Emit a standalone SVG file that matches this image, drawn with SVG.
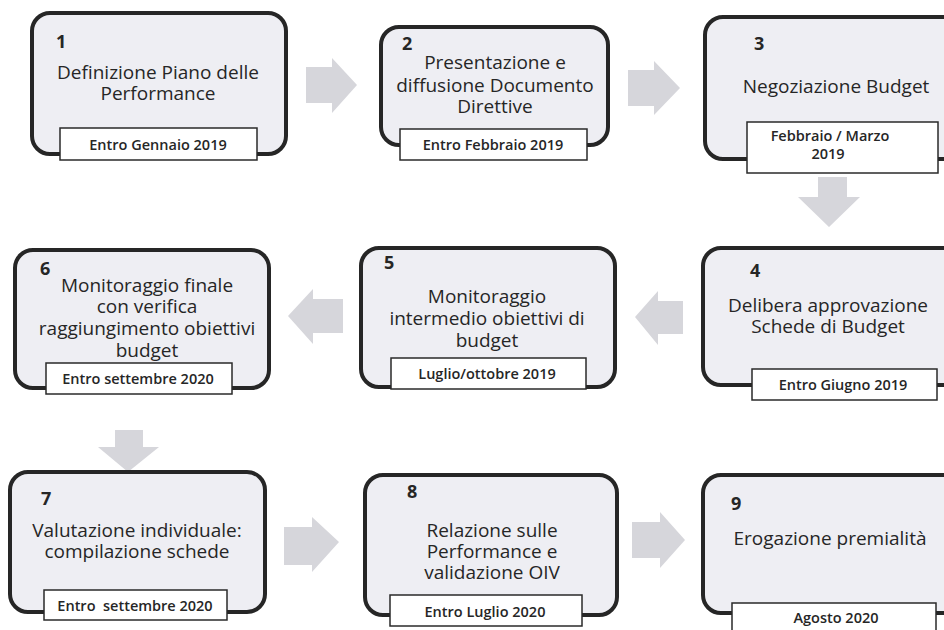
<svg xmlns="http://www.w3.org/2000/svg" width="944" height="630" viewBox="0 0 944 630">
<defs>
<style>
.box{fill:#eeeef3;stroke:#262626;stroke-width:4}
.lbl{fill:#ffffff;stroke:#2a2a2a;stroke-width:1.5}
.t{font-family:"Open Sans","Liberation Sans",sans-serif;font-size:19px;fill:#262626;text-anchor:middle}
.n{font-family:"Open Sans","Liberation Sans",sans-serif;font-size:18px;font-weight:700;fill:#262626}
.d{font-family:"Open Sans","Liberation Sans",sans-serif;font-size:14.5px;font-weight:600;fill:#262626;text-anchor:middle;white-space:pre}
.arr{fill:#d6d6db}
</style>
</defs>
<rect width="944" height="630" fill="#ffffff"/>
<g id="connectors">
<polygon class="arr" points="306,67 332,67 332,58 357,85 332,113 332,103 306,103"/>
<polygon class="arr" points="628,70 654,70 654,61 680,88 654,115 654,106 628,106"/>
<polygon class="arr" points="818,177 847,177 847,197 860,197 829,227 798,197 818,197"/>
<polygon class="arr" points="683,301 658,301 658,291 635,317 658,345 658,334 683,334"/>
<polygon class="arr" points="343,299 313,299 313,289 288,316 313,344 313,333 343,333"/>
<polygon class="arr" points="115,430 143,430 143,447 159,447 128,472 98,447 115,447"/>
<polygon class="arr" points="284,527 312,527 312,517 339,542 312,572 312,565 284,565"/>
<polygon class="arr" points="632,522 660,522 660,512 685,540 660,568 660,558 632,558"/>
</g>
<g id="node1">
<rect class="box" x="32" y="13" width="254" height="141" rx="18"/>
<text class="n" x="56" y="48">1</text>
<text class="t" x="158" y="79">Definizione Piano delle</text>
<text class="t" x="158" y="100">Performance</text>
<rect class="lbl" x="60" y="128" width="197" height="32"/>
<text class="d" x="158" y="150">Entro Gennaio 2019</text>
</g>
<g id="node2">
<rect class="box" x="381" y="27" width="227" height="118" rx="18"/>
<text class="n" x="402" y="50">2</text>
<text class="t" x="495" y="69">Presentazione e</text>
<text class="t" x="495" y="92">diffusione Documento</text>
<text class="t" x="495" y="113">Direttive</text>
<rect class="lbl" x="400" y="129" width="187" height="31"/>
<text class="d" x="493" y="150">Entro Febbraio 2019</text>
</g>
<g id="node3">
<rect class="box" x="705" y="17" width="260" height="142" rx="18"/>
<text class="n" x="754" y="50">3</text>
<text class="t" x="836" y="93">Negoziazione Budget</text>
<rect class="lbl" x="747" y="122" width="191" height="51"/>
<text class="d" x="830" y="141" style="font-size:14.5px">Febbraio / Marzo</text>
<text class="d" x="828" y="159" style="font-size:14.5px">2019</text>
</g>
<g id="node4">
<rect class="box" x="703" y="248" width="262" height="137" rx="18"/>
<text class="n" x="750" y="277">4</text>
<text class="t" x="828" y="312">Delibera approvazione</text>
<text class="t" x="828" y="333">Schede di Budget</text>
<rect class="lbl" x="752" y="369" width="185" height="31"/>
<text class="d" x="843" y="390">Entro Giugno 2019</text>
</g>
<g id="node5">
<rect class="box" x="361" y="248" width="254" height="139" rx="18"/>
<text class="n" x="384" y="269">5</text>
<text class="t" x="487" y="303">Monitoraggio</text>
<text class="t" x="487" y="325">intermedio obiettivi di</text>
<text class="t" x="487" y="347">budget</text>
<rect class="lbl" x="391" y="358" width="195" height="31"/>
<text class="d" x="487" y="379">Luglio/ottobre 2019</text>
</g>
<g id="node6">
<rect class="box" x="15" y="250" width="254" height="138" rx="18"/>
<text class="n" x="40" y="275">6</text>
<text class="t" x="147" y="292">Monitoraggio finale</text>
<text class="t" x="147" y="313">con verifica</text>
<text class="t" x="147" y="335">raggiungimento obiettivi</text>
<text class="t" x="147" y="357">budget</text>
<rect class="lbl" x="46" y="363" width="186" height="31"/>
<text class="d" x="138" y="384">Entro settembre 2020</text>
</g>
<g id="node7">
<rect class="box" x="10" y="472" width="255" height="140" rx="18"/>
<text class="n" x="41" y="505">7</text>
<text class="t" x="137" y="537">Valutazione individuale:</text>
<text class="t" x="137" y="558">compilazione schede</text>
<rect class="lbl" x="44" y="590" width="183" height="30"/>
<text class="d" x="135" y="611">Entro  settembre 2020</text>
</g>
<g id="node8">
<rect class="box" x="365" y="475" width="252" height="140" rx="18"/>
<text class="n" x="407" y="498">8</text>
<text class="t" x="492" y="537">Relazione sulle</text>
<text class="t" x="492" y="558">Performance e</text>
<text class="t" x="492" y="579">validazione OIV</text>
<rect class="lbl" x="390" y="595" width="192" height="31"/>
<text class="d" x="485" y="617">Entro Luglio 2020</text>
</g>
<g id="node9">
<rect class="box" x="703" y="475" width="262" height="138" rx="18"/>
<text class="n" x="731" y="510">9</text>
<text class="t" x="830" y="545">Erogazione premialità</text>
<rect class="lbl" x="732" y="603" width="204" height="40"/>
<text class="d" x="836" y="623">Agosto 2020</text>
</g>
</svg>
